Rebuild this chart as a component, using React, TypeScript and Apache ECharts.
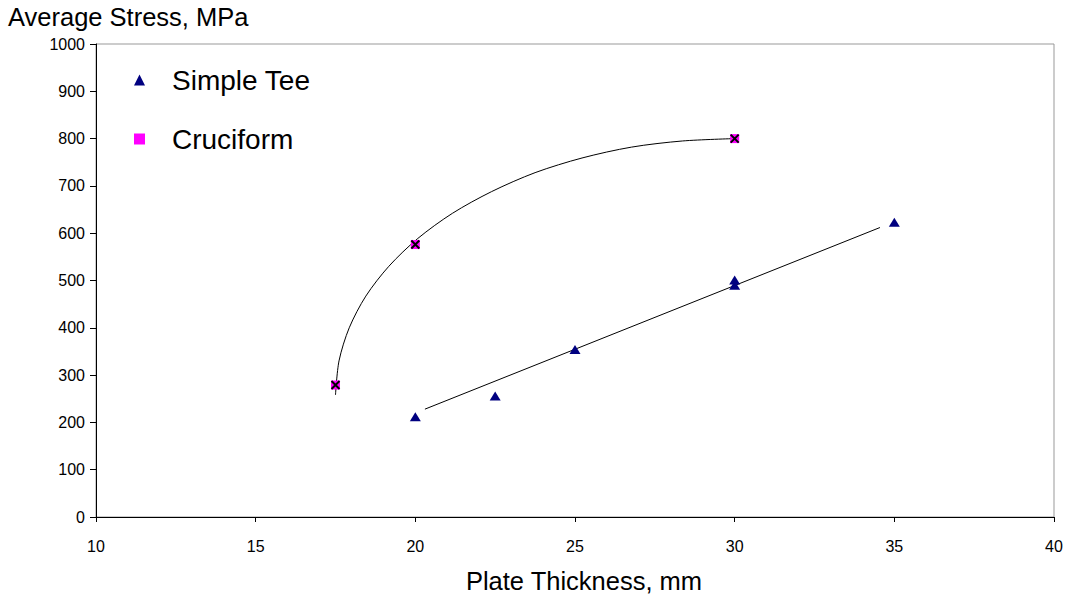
import React, { useEffect, useRef } from "react";
import * as echarts from "echarts";

const xTicks = [10, 15, 20, 25, 30, 35, 40];
const yTicks = [0, 100, 200, 300, 400, 500, 600, 700, 800, 900, 1000];

const simpleTee: [number, number][] = [
  [20, 212],
  [22.5, 256],
  [25, 354],
  [30, 501],
  [30, 490],
  [35, 623],
];

const cruciform: [number, number][] = [
  [17.5, 279],
  [20, 576],
  [30, 800],
];

const teeTrend: [number, number][] = [
  [20.3, 228],
  [34.55, 612],
];

const cruciformCurve: [number, number][] = [
  [17.5, 258],
  [17.61, 330],
  [17.93, 400],
  [18.45, 467],
  [19.17, 530],
  [20.08, 589],
  [21.16, 642],
  [22.39, 688],
  [23.75, 728],
  [25.22, 759],
  [26.77, 782],
  [28.37, 795],
  [30, 800],
];

const FONT = "Liberation Sans, Arial, sans-serif";
const X_PATH = "path://M0,0L10,10M10,0L0,10";

export default function App() {
  const ref = useRef<HTMLDivElement>(null);
  useEffect(() => {
    if (!ref.current) return;
    const chart = echarts.init(ref.current, undefined, { renderer: "svg" });
    chart.setOption({
      animation: false,
      backgroundColor: "#ffffff",
      textStyle: { fontFamily: FONT },
      grid: {
        left: 96,
        right: 14,
        top: 44,
        bottom: 77,
        show: true,
        borderColor: "#999999",
        borderWidth: 1,
      },
      legend: {
        orient: "vertical",
        left: 129,
        top: 59,
        itemGap: 27,
        itemWidth: 11,
        itemHeight: 11,
        data: [
          { name: "Simple Tee", icon: "triangle", itemStyle: { color: "#000080", opacity: 1 } },
          { name: "Cruciform", icon: "rect", itemStyle: { color: "#ff00ff", opacity: 1 } },
        ],
        textStyle: {
          fontSize: 28,
          lineHeight: 32,
          color: "#000",
          fontFamily: FONT,
          padding: [0, 0, 0, 22],
        },
      },
      xAxis: {
        type: "value",
        min: xTicks[0],
        max: xTicks[xTicks.length - 1],
        interval: 5,
        name: "Plate Thickness, mm",
        nameLocation: "middle",
        nameGap: 51,
        nameTextStyle: {
          fontSize: 25.5,
          color: "#000",
          fontFamily: FONT,
          padding: [0, 0, 0, 18],
        },
        axisLine: { show: true, lineStyle: { color: "#000", width: 1 } },
        axisTick: { show: true, length: 5, lineStyle: { color: "#000" } },
        axisLabel: { fontSize: 16, color: "#000", margin: 21, fontFamily: FONT },
        splitLine: { show: false },
      },
      yAxis: {
        type: "value",
        min: yTicks[0],
        max: yTicks[yTicks.length - 1],
        interval: 100,
        name: "Average Stress, MPa",
        nameLocation: "end",
        nameGap: 0,
        nameTextStyle: {
          fontSize: 25.5,
          color: "#000",
          fontFamily: FONT,
          align: "left",
          padding: [0, 0, 14, -88],
        },
        axisLine: { show: true, lineStyle: { color: "#000", width: 1 } },
        axisTick: { show: true, length: 6, lineStyle: { color: "#000" } },
        axisLabel: {
          fontSize: 16,
          color: "#000",
          margin: 11,
          fontFamily: FONT,
          formatter: (v: number) => String(v),
        },
        splitLine: { show: false },
      },
      series: [
        {
          name: "trendTee",
          type: "line",
          data: teeTrend,
          symbol: "none",
          lineStyle: { color: "#000", width: 1 },
          silent: true,
          z: 1,
        },
        {
          name: "curveCruciform",
          type: "line",
          data: cruciformCurve,
          symbol: "none",
          smooth: 0.3,
          lineStyle: { color: "#000", width: 1 },
          silent: true,
          z: 1,
        },
        {
          name: "Simple Tee",
          type: "scatter",
          data: simpleTee,
          symbol: "triangle",
          symbolSize: [11, 9],
          itemStyle: { color: "#000080", opacity: 1 },
          z: 3,
        },
        {
          name: "Cruciform",
          type: "scatter",
          data: cruciform,
          symbol: "rect",
          symbolSize: 9,
          itemStyle: { color: "#ff00ff", opacity: 1 },
          z: 3,
        },
        {
          name: "CruciformX",
          type: "scatter",
          data: cruciform,
          symbol: X_PATH,
          symbolSize: 8,
          itemStyle: { color: "none", borderColor: "#000", borderWidth: 2, opacity: 1 },
          z: 4,
        },
      ],
    });
    return () => chart.dispose();
  }, []);
  return (
    <div
      style={{
        position: "fixed",
        left: 0,
        top: 0,
        width: 1068,
        height: 599,
        overflow: "hidden",
        background: "#fff",
      }}
    >
      <div ref={ref} style={{ width: 1068, height: 599 }} />
    </div>
  );
}
